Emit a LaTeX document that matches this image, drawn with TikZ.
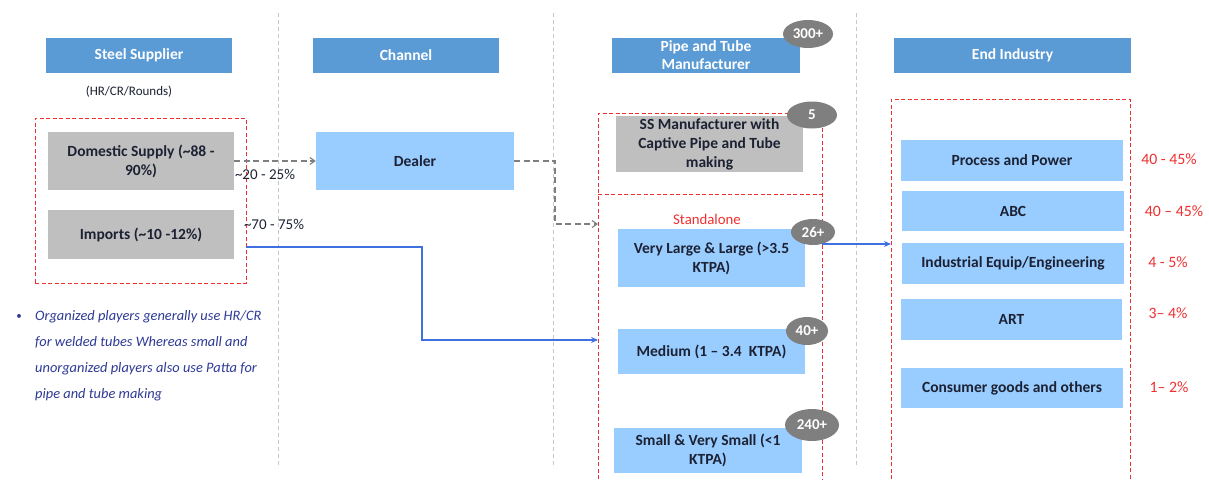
\documentclass[tikz,border=0pt]{standalone}
\usepackage{fontspec}
\setmainfont{Carlito}
\usetikzlibrary{arrows.meta,shapes.geometric}
\definecolor{hdrblue}{HTML}{5B9BD5}
\definecolor{ltblue}{HTML}{99CCFF}
\definecolor{boxgray}{HTML}{BFBFBF}
\definecolor{pillgray}{HTML}{7F7F7F}
\definecolor{sepgray}{HTML}{C8C8C8}
\definecolor{redd}{HTML}{F03030}
\definecolor{linkblue}{HTML}{4070E0}
\definecolor{txtdark}{HTML}{1C2233}
\definecolor{notecol}{HTML}{2E3A96}
\tikzset{
  x=1pt, y=-1pt,
  basebox/.style={rectangle, inner sep=2pt, align=center, text=txtdark,
    font=\fontsize{15.5}{19}\selectfont\bfseries},
  hdrbox/.style={basebox, fill=hdrblue, text=white, font=\fontsize{15.5}{18}\selectfont\bfseries},
  graybox/.style={basebox, fill=boxgray},
  bluebox/.style={basebox, fill=ltblue},
  pill/.style={ellipse, fill=pillgray, text=white, inner sep=0pt,
    font=\fontsize{15}{16}\selectfont\bfseries},
  reddash/.style={draw=redd, line width=0.9pt, dash pattern=on 4pt off 2.5pt},
  sepline/.style={draw=sepgray, line width=0.8pt, dash pattern=on 4pt off 3pt},
  pct/.style={text=redd, font=\fontsize{15.8}{17}\selectfont},
  flowtxt/.style={text=txtdark, font=\fontsize{15}{17}\selectfont},
  grayarrow/.style={draw=pillgray, line width=1.1pt, dash pattern=on 6pt off 3.5pt,
    -{Straight Barb[length=5pt,width=7pt]}},
  bluearrow/.style={draw=linkblue, line width=1.1pt, -{Stealth[length=7pt,width=6pt]}}
}
\begin{document}
\begin{tikzpicture}
\useasboundingbox (0,0) rectangle (1209,479);
\fill[white] (0,0) rectangle (1209,479);

% column separators
\coordinate (s1t) at (278,13); \coordinate (s1b) at (278,468);
\coordinate (s2t) at (553,13); \coordinate (s2b) at (553,468);
\coordinate (s3t) at (856,13); \coordinate (s3b) at (856,468);
\draw[sepline] (s1t) -- (s1b);
\draw[sepline] (s2t) -- (s2b);
\draw[sepline] (s3t) -- (s3b);

% headers
\node[hdrbox, minimum width=186pt, minimum height=35pt] (hsteel) at (139,55.5) {Steel Supplier};
\node[hdrbox, minimum width=186pt, minimum height=35pt] (hchan) at (406,55.5) {Channel};
\node[hdrbox, minimum width=188pt, minimum height=35pt] (hpipe) at (706,55.5) {Pipe and Tube\\Manufacturer};
\node[hdrbox, minimum width=237pt, minimum height=35pt] (hend) at (1012.5,55.5) {End Industry};
\node[pill, minimum width=50pt, minimum height=28pt] (p300) at (808,34) {300+};

\node[text=txtdark, font=\fontsize{13}{15}\selectfont] (hrcr) at (129,92) {(HR/CR/Rounds)};

% left group
\node[reddash, minimum width=211pt, minimum height=165pt] (srcgrp) at (140.5,200.5) {};
\node[graybox, minimum width=186pt, minimum height=58pt] (dom) at (141,161) {Domestic Supply (\textasciitilde88 -\\90\%)};
\node[graybox, minimum width=186pt, minimum height=49pt] (imp) at (141,234.5) {Imports (\textasciitilde10 -12\%)};

% channel
\node[bluebox, minimum width=198pt, minimum height=58pt] (dealer) at (415,161) {Dealer};

% middle group
\coordinate (mtl) at (598,113); \coordinate (mtr) at (822,113);
\coordinate (mbl) at (598,479); \coordinate (mbr) at (822,479);
\coordinate (mdl) at (598,194); \coordinate (mdr) at (822,194);
\draw[reddash] (mbl) -- (mtl) -- (mtr) -- (mbr);
\draw[reddash] (mdl) -- (mdr);

\node[graybox, minimum width=187pt, minimum height=56pt] (ss) at (709.5,144) {SS Manufacturer with\\Captive Pipe and Tube\\making};
\node[text=redd, font=\fontsize{14.8}{16}\selectfont] (stand) at (707,219) {Standalone};
\node[bluebox, minimum width=187pt, minimum height=58pt] (vl) at (711.5,258) {Very Large \& Large (>3.5\\KTPA)};
\node[bluebox, minimum width=187pt, minimum height=45pt] (med) at (711.5,351.5) {Medium (1 -- 3.4\ \ KTPA)};
\node[bluebox, minimum width=188pt, minimum height=45pt] (small) at (708,450.5) {Small \& Very Small (<1\\KTPA)};

\node[pill, minimum width=50pt, minimum height=27pt] (p5) at (812,115) {5};
\node[pill, minimum width=44pt, minimum height=26pt] (p26) at (813,232) {26+};
\node[pill, minimum width=42pt, minimum height=28pt] (p40) at (807,331) {40+};
\node[pill, minimum width=54pt, minimum height=32pt] (p240) at (812,425) {240+};

% right group
\coordinate (rtl) at (891,99); \coordinate (rtr) at (1130,99);
\coordinate (rbl) at (891,479); \coordinate (rbr) at (1130,479);
\draw[reddash] (rbl) -- (rtl) -- (rtr) -- (rbr);

\node[bluebox, minimum width=222pt, minimum height=41pt] (proc) at (1012,160.5) {Process and Power};
\node[bluebox, minimum width=222pt, minimum height=40pt] (abc) at (1013,211) {ABC};
\node[bluebox, minimum width=222pt, minimum height=41pt] (ind) at (1013,263.5) {Industrial Equip/Engineering};
\node[bluebox, minimum width=221pt, minimum height=41pt] (art) at (1011.5,319.5) {ART};
\node[bluebox, minimum width=222pt, minimum height=40pt] (cons) at (1012,388) {Consumer goods and others};

\node[pct] (q1) at (1169,159) {40 - 45\%};
\node[pct] (q2) at (1174,211) {40 -- 45\%};
\node[pct] (q3) at (1168,262) {4 - 5\%};
\node[pct] (q4) at (1168,313) {3-- 4\%};
\node[pct] (q5) at (1169,387) {1-- 2\%};

% flows
\draw[grayarrow] (dom.east) -- (dealer.west);
\node[flowtxt] (f1) at (265,174) {\textasciitilde20 - 25\%};
\node[flowtxt] (f2) at (274,224) {\textasciitilde70 - 75\%};

\coordinate (dbend) at (555,161);
\coordinate (sain) at (598,224);
\draw[grayarrow] (dealer.east) -- (dbend) |- (sain);

\coordinate (impout) at (246,247);
\coordinate (impbend) at (422,247);
\coordinate (medin) at (598,340);
\draw[bluearrow] (impout) -- (impbend) |- (medin);

\coordinate (vlout) at (822,244);
\coordinate (endin) at (891,244);
\draw[bluearrow] (vlout) -- (endin);

% note
\node[text=notecol, font=\fontsize{11}{13}\selectfont] (bul) at (19,317) {\textbullet};
\node[anchor=north west, inner sep=0pt, align=left, text=notecol,
  font=\fontsize{14.4}{25.9}\selectfont\itshape] (note) at (35,310.5)
  {Organized players generally use HR/CR\\for welded tubes Whereas small and\\unorganized players also use Patta for\\pipe and tube making};
\end{tikzpicture}
\end{document}
